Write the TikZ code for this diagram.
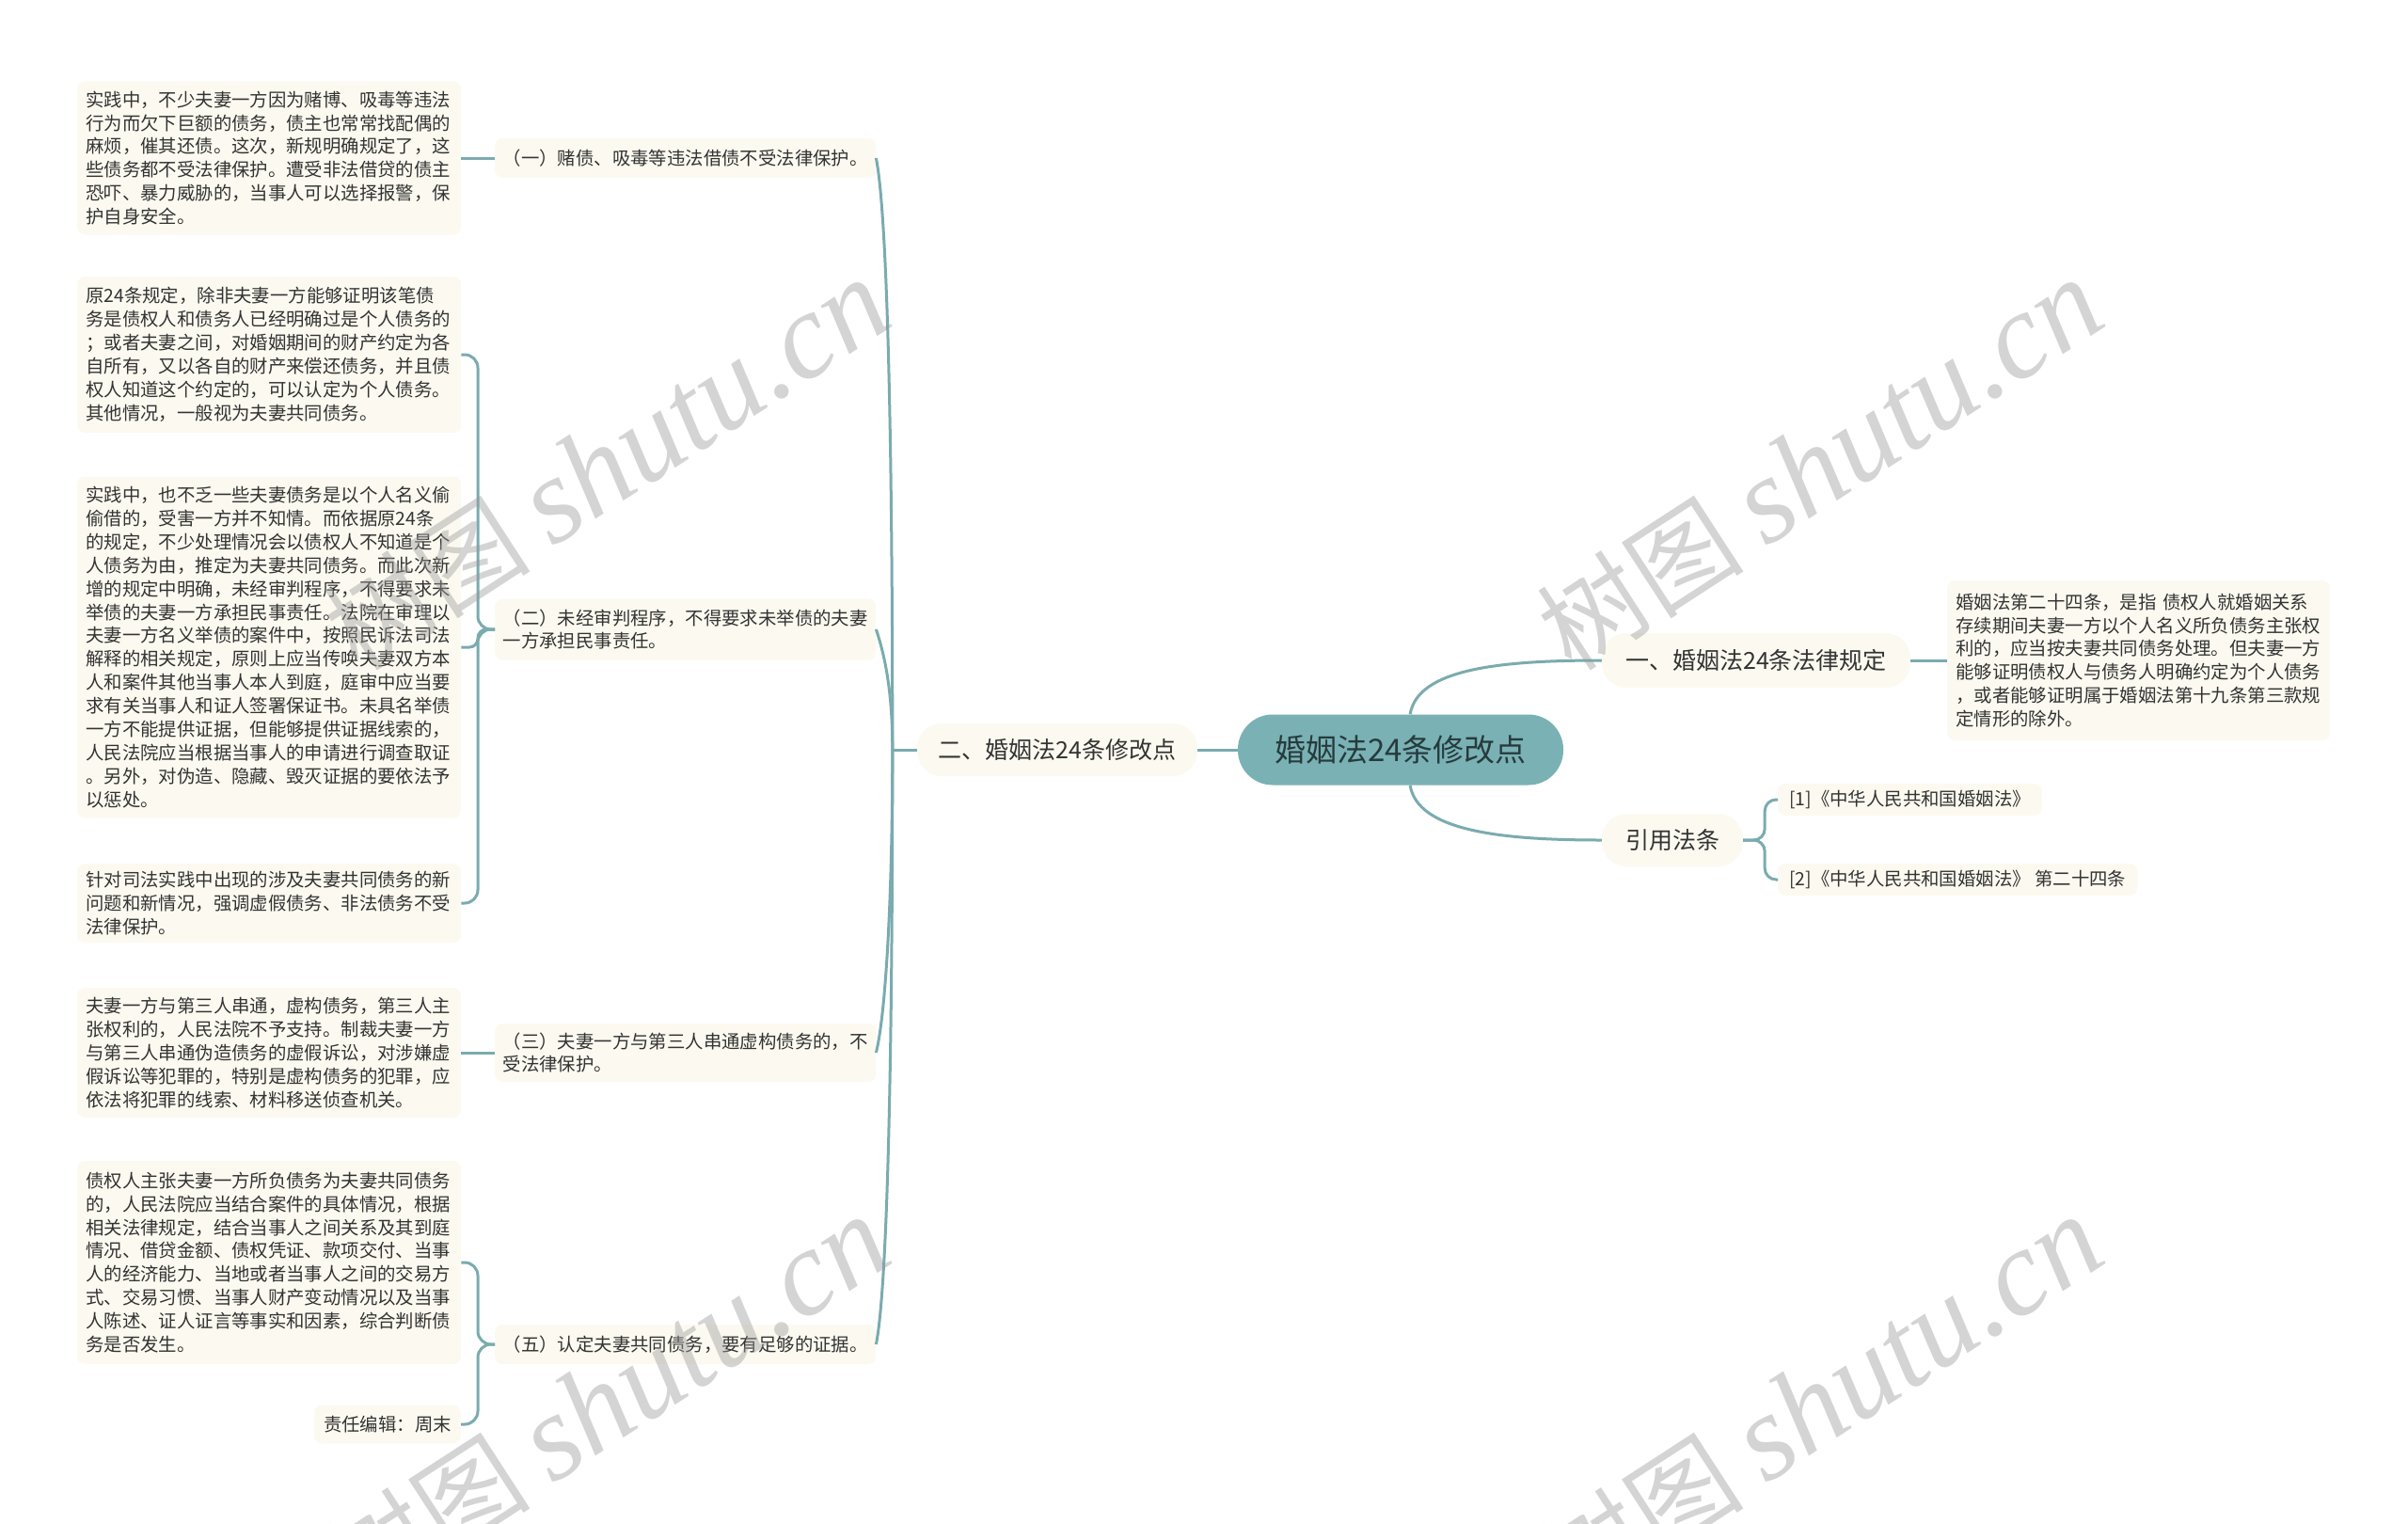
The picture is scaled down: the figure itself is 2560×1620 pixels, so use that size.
\documentclass[tikz,border=0pt]{standalone}
\usepackage{fontspec}
\setmainfont{Noto Sans CJK SC}
\newfontfamily\wmserif{Liberation Serif}
\definecolor{linec}{HTML}{7AABAF}
\definecolor{cream}{HTML}{FCFAF0}
\definecolor{rootfill}{HTML}{7AB1B4}
\definecolor{txt}{HTML}{333333}
\definecolor{roottxt}{HTML}{263B3D}
\definecolor{wm}{HTML}{9A9A9A}
\begin{document}
\begin{tikzpicture}[x=1pt,y=-1pt,
  conn/.style={draw=linec, line width=3pt},
  leafbox/.style={fill=cream, rounded corners=8pt, text=txt, align=left, text width=390pt,
    inner xsep=9pt, inner ysep=8pt, font=\fontsize{19.4}{24.9}\selectfont, anchor=west},
  subbox/.style={leafbox, text width=388pt, inner xsep=8.5pt},
  smallbox/.style={fill=cream, rounded corners=8pt, text=txt, inner xsep=10pt, inner ysep=0pt,
    font=\fontsize{19.4}{24.9}\selectfont, minimum height=41pt},
  branchbox/.style={fill=cream, rounded corners=26pt, text=txt, font=\fontsize{25}{30}\selectfont, inner sep=0pt},
  rootbox/.style={fill=rootfill, rounded corners=37pt, text=roottxt, font=\fontsize{33}{40}\selectfont,
    inner sep=0pt, minimum width=346pt, minimum height=75pt},
  citebox/.style={fill=cream, rounded corners=8pt, text=txt, font=\fontsize{19.4}{24.9}\selectfont,
    inner xsep=12pt, inner ysep=0pt, minimum height=34pt, anchor=west},
  wmark/.style={text=wm, opacity=0.42, rotate=33, inner sep=0pt}
]
\fill[white] (0,0) rectangle (2560,1620);
\useasboundingbox (0,0) rectangle (2560,1620);

% ---- central and main branches
\node[rootbox] (root) at (1489,797) {婚姻法24条修改点};
\node[branchbox, minimum width=298pt, minimum height=56pt] (b2) at (1124,797) {二、婚姻法24条修改点};
\node[branchbox, minimum width=328pt, minimum height=58pt] (b1) at (1867,702) {一、婚姻法24条法律规定};
\node[branchbox, minimum width=150pt, minimum height=56pt] (b3) at (1778,893) {引用法条};

% ---- right side
\node[leafbox, text width=389pt, minimum height=170pt] (r1) at (2070,702) {婚姻法第二十四条，是指 债权人就婚姻关系\\存续期间夫妻一方以个人名义所负债务主张权\\利的，应当按夫妻共同债务处理。但夫妻一方\\能够证明债权人与债务人明确约定为个人债务\\，或者能够证明属于婚姻法第十九条第三款规\\定情形的除外。};
\node[citebox] (c1) at (1890,850) {[1]《中华人民共和国婚姻法》};
\node[citebox] (c2) at (1890,935) {[2]《中华人民共和国婚姻法》 第二十四条};

% ---- left sub-branches
\node[subbox, minimum height=42pt] (s1) at (526,168) {（一）赌债、吸毒等违法借债不受法律保护。};
\node[subbox, minimum height=65pt] (s2) at (526,669) {（二）未经审判程序，不得要求未举债的夫妻\\一方承担民事责任。};
\node[subbox, minimum height=62pt] (s3) at (526,1119) {（三）夫妻一方与第三人串通虚构债务的，不\\受法律保护。};
\node[subbox, minimum height=42pt] (s5) at (526,1429) {（五）认定夫妻共同债务，要有足够的证据。};

% ---- left leaves
\node[leafbox, minimum height=163pt] (l1) at (82,168) {实践中，不少夫妻一方因为赌博、吸毒等违法\\行为而欠下巨额的债务，债主也常常找配偶的\\麻烦，催其还债。这次，新规明确规定了，这\\些债务都不受法律保护。遭受非法借贷的债主\\恐吓、暴力威胁的，当事人可以选择报警，保\\护自身安全。};
\node[leafbox, minimum height=166pt] (l2a) at (82,377) {原24条规定，除非夫妻一方能够证明该笔债\\务是债权人和债务人已经明确过是个人债务的\\；或者夫妻之间，对婚姻期间的财产约定为各\\自所有，又以各自的财产来偿还债务，并且债\\权人知道这个约定的，可以认定为个人债务。\\其他情况，一般视为夫妻共同债务。};
\node[leafbox, minimum height=363pt] (l2b) at (82,688) {实践中，也不乏一些夫妻债务是以个人名义偷\\偷借的，受害一方并不知情。而依据原24条\\的规定，不少处理情况会以债权人不知道是个\\人债务为由，推定为夫妻共同债务。而此次新\\增的规定中明确，未经审判程序，不得要求未\\举债的夫妻一方承担民事责任。法院在审理以\\夫妻一方名义举债的案件中，按照民诉法司法\\解释的相关规定，原则上应当传唤夫妻双方本\\人和案件其他当事人本人到庭，庭审中应当要\\求有关当事人和证人签署保证书。未具名举债\\一方不能提供证据，但能够提供证据线索的，\\人民法院应当根据当事人的申请进行调查取证\\。另外，对伪造、隐藏、毁灭证据的要依法予\\以惩处。};
\node[leafbox, minimum height=84pt] (l2c) at (82,960) {针对司法实践中出现的涉及夫妻共同债务的新\\问题和新情况，强调虚假债务、非法债务不受\\法律保护。};
\node[leafbox, minimum height=138pt] (l3) at (82,1119) {夫妻一方与第三人串通，虚构债务，第三人主\\张权利的，人民法院不予支持。制裁夫妻一方\\与第三人串通伪造债务的虚假诉讼，对涉嫌虚\\假诉讼等犯罪的，特别是虚构债务的犯罪，应\\依法将犯罪的线索、材料移送侦查机关。};
\node[leafbox, minimum height=216pt] (l5a) at (82,1342) {债权人主张夫妻一方所负债务为夫妻共同债务\\的，人民法院应当结合案件的具体情况，根据\\相关法律规定，结合当事人之间关系及其到庭\\情况、借贷金额、债权凭证、款项交付、当事\\人的经济能力、当地或者当事人之间的交易方\\式、交易习惯、当事人财产变动情况以及当事\\人陈述、证人证言等事实和因素，综合判断债\\务是否发生。};
\node[smallbox, anchor=east] (l5b) at (490,1514) {责任编辑：周末};

% ---- connectors
\draw[conn] (root.west) -- (b2.east);
\draw[conn] (root.75) .. controls +(8,-48) and +(-110,0) .. (b1.west);
\draw[conn] (root.-75) .. controls +(8,48) and +(-110,0) .. (b3.west);
\draw[conn] (b1.east) -- (r1.west);
\coordinate (j3) at ([xshift=23pt]b3.east);
\draw[conn, rounded corners=12pt] (b3.east) -- (j3) |- (c1.west);
\draw[conn, rounded corners=12pt] (b3.east) -- (j3) |- (c2.west);

\coordinate (j2) at ([xshift=-26pt]b2.west);
\draw[conn] (b2.west) -- (j2);
\draw[conn] (j2) .. controls +(0,-330) and +(12,60) .. (s1.east);
\draw[conn] (j2) .. controls +(0,-60) and +(10,30) .. (s2.east);
\draw[conn] (j2) .. controls +(0,160) and +(10,-40) .. (s3.east);
\draw[conn] (j2) .. controls +(0,330) and +(12,-60) .. (s5.east);

\draw[conn] (s1.west) -- (l1.east);
\draw[conn] (s3.west) -- (l3.east);
\coordinate (k2) at ([xshift=-18pt]s2.west);
\draw[conn, rounded corners=14pt] (s2.west) -- (k2) |- (l2a.east);
\draw[conn, rounded corners=9pt] (s2.west) -- (k2) |- (l2b.east);
\draw[conn, rounded corners=14pt] (s2.west) -- (k2) |- (l2c.east);
\coordinate (k5) at ([xshift=-18pt]s5.west);
\draw[conn, rounded corners=14pt] (s5.west) -- (k5) |- (l5a.east);
\draw[conn, rounded corners=14pt] (s5.west) -- (k5) |- (l5b.east);

% ---- watermarks
\node[wmark] (w1) at (645,495) {\fontsize{110}{110}\selectfont 树图 {\wmserif\itshape\fontsize{130}{130}\selectfont shutu.cn}};
\node[wmark] (w2) at (1935,495) {\fontsize{110}{110}\selectfont 树图 {\wmserif\itshape\fontsize{130}{130}\selectfont shutu.cn}};
\node[wmark] (w3) at (645,1491) {\fontsize{110}{110}\selectfont 树图 {\wmserif\itshape\fontsize{130}{130}\selectfont shutu.cn}};
\node[wmark] (w4) at (1935,1491) {\fontsize{110}{110}\selectfont 树图 {\wmserif\itshape\fontsize{130}{130}\selectfont shutu.cn}};
\end{tikzpicture}
\end{document}
